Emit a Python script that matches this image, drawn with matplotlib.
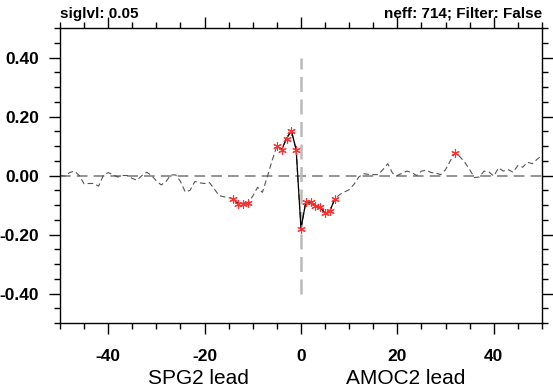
"""
Lagged correlation SPG2 vs AMOC2, NCL-style line plot with significant lags marked.
"""
import numpy as np
import matplotlib
matplotlib.use('Agg')
import matplotlib.pyplot as plt
from matplotlib.ticker import MultipleLocator

plt.rcParams['font.family'] = ['Liberation Sans', 'DejaVu Sans']

# ── data ───────────────────────────────────────────────────────────
lags = list(range(-50, 51))
corr = [
    0.000, -0.002, 0.010, 0.015, 0.000, -0.028, -0.027, -0.027, -0.036, 0.000,   # -50..-41
    0.010, 0.002, -0.005, 0.000, 0.000, -0.010, -0.016, 0.000, 0.011, 0.000,     # -40..-31
    -0.018, -0.032, -0.020, 0.002, 0.002, -0.020, -0.056, -0.050, -0.020, -0.025,  # -30..-21
    -0.027, -0.024, -0.045, -0.068, -0.072, -0.075, -0.080, -0.095, -0.095, -0.092,  # -20..-11
    -0.070, -0.040, -0.057, -0.005, 0.050, 0.100, 0.088, 0.125, 0.152, 0.088,    # -10..-1
    -0.180,                                                                      # 0
    -0.090, -0.090, -0.105, -0.108, -0.128, -0.120, -0.080, -0.065, -0.056, -0.048,  # 1..10
    -0.030, -0.005, 0.006, 0.004, 0.003, 0.003, 0.020, 0.040, 0.008, 0.000,      # 11..20
    0.008, 0.015, 0.010, 0.000, 0.015, 0.018, 0.010, 0.008, 0.003, 0.020,        # 21..30
    0.050, 0.078, 0.063, 0.045, 0.020, -0.007, -0.005, 0.015, 0.012, -0.002,     # 31..40
    0.026, 0.015, 0.020, 0.011, 0.034, 0.028, 0.045, 0.040, 0.055, 0.068,        # 41..50
]
sig_lags = [-14, -13, -12, -11, -5, -4, -3, -2, -1, 0, 1, 2, 3, 4, 5, 6, 7, 32]

lags_a = np.array(lags)
corr_a = np.array(corr)
sig_mask = np.isin(lags_a, sig_lags)
corr_sig = np.where(sig_mask, corr_a, np.nan)

fig = plt.figure(figsize=(5.53, 3.88), dpi=100)
ax = fig.add_axes([0.1085, 0.1675, 0.8715, 0.7603])

# reference lines
ax.axhline(0, color='#777777', lw=1.1, ls=(0, (7, 4)), zorder=1)
ax.plot([0, 0], [-0.4, 0.4], color='#bbbbbb', lw=1.8, ls=(0, (6, 3)), zorder=1)

# full series dashed, significant stretch solid
ax.plot(lags_a, corr_a, color='#555555', lw=0.8, ls=(0, (5, 3)), zorder=2)
ax.plot(lags_a, corr_sig, color='black', lw=0.9, zorder=3)
ax.plot(lags_a[sig_mask], corr_a[sig_mask], ls='none', marker=(6, 2, 0),
        ms=6, mew=0.8, color='#ff3030', zorder=4)

ax.set_xlim(-50, 50)
ax.set_ylim(-0.5, 0.5)
ax.xaxis.set_major_locator(MultipleLocator(20))
ax.xaxis.set_minor_locator(MultipleLocator(5))
ax.yaxis.set_major_locator(MultipleLocator(0.2))
ax.yaxis.set_minor_locator(MultipleLocator(0.05))
ax.xaxis.set_major_formatter(plt.FuncFormatter(lambda v, p: f'{v:.0f}'))
ax.yaxis.set_major_formatter(plt.FuncFormatter(lambda v, p: f'{v:.2f}'))

ax.tick_params(which='both', direction='out', top=True, right=True, width=1.0,
               labelsize=12.5)
ax.tick_params(which='major', length=8)
ax.tick_params(which='minor', length=4)
for lbl in ax.get_xticklabels() + ax.get_yticklabels():
    lbl.set_fontweight('bold')
ax.tick_params(axis='x', pad=11)
ax.tick_params(axis='y', pad=7)
for s in ax.spines.values():
    s.set_linewidth(1.0)

ax.text(0.0, 1.025, 'siglvl: 0.05', transform=ax.transAxes, ha='left', va='bottom',
        fontsize=11, fontweight='bold')
ax.text(1.0, 1.025, 'neff: 714; Filter: False', transform=ax.transAxes, ha='right',
        va='bottom', fontsize=11, fontweight='bold')

fig.text(198 / 553, 1 - 378 / 388, 'SPG2 lead', ha='center', va='center', fontsize=15)
fig.text(406 / 553, 1 - 378 / 388, 'AMOC2 lead', ha='center', va='center', fontsize=15)

fig.savefig('out.png', dpi=100)
